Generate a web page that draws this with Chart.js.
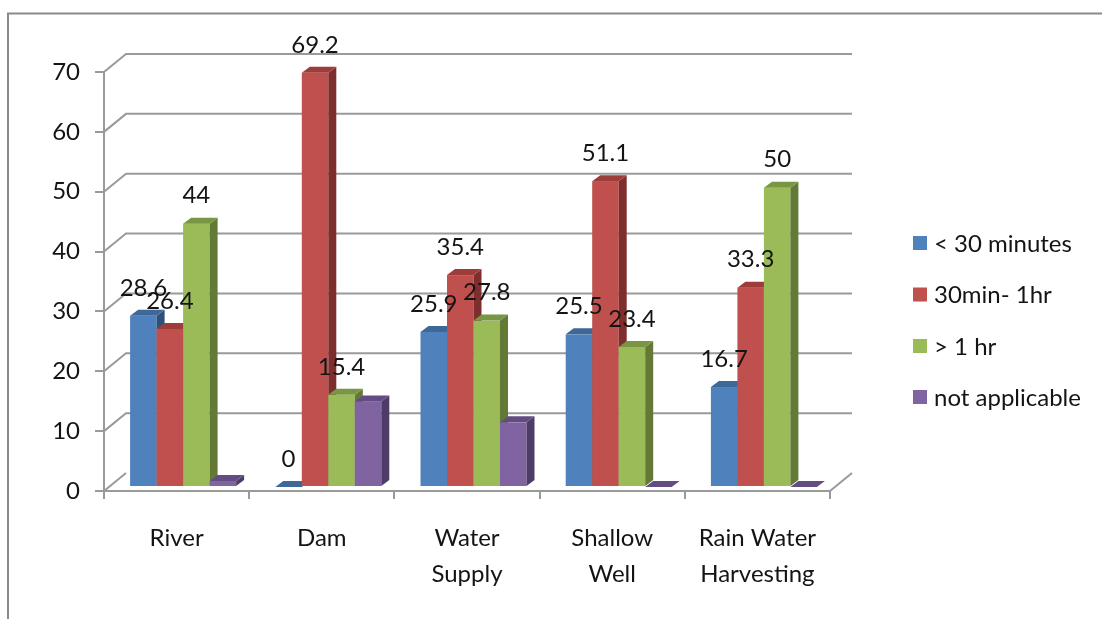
<!DOCTYPE html>
<html>
<head>
<meta charset="utf-8">
<script src="https://cdn.jsdelivr.net/npm/chart.js@4.4.1/dist/chart.umd.min.js"></script>
<style>
  html, body { margin: 0; padding: 0; background: #fff; }
  #wrap { width: 1102px; height: 619px; position: relative; }
</style>
</head>
<body>
<div id="wrap"><canvas id="c" width="1102" height="619"></canvas></div>
<script>
// Water sources and travel time to each (percent of households)
const categories = ['River', 'Dam', ['Water', 'Supply'], ['Shallow', 'Well'], ['Rain Water', 'Harvesting']];
const seriesNames = ['< 30 minutes', '30min- 1hr', '> 1 hr', 'not applicable'];
const under30min = [28.6, 0, 25.9, 25.5, 16.7];
const from30minTo1hr = [26.4, 69.2, 35.4, 51.1, 33.3];
const over1hr = [44, 15.4, 27.8, 23.4, 50];
const notApplicable = [1.0, 14.3, 10.8, 0, 0];
const yMax = 70;
const yStep = 10;

// front / top / side shades for each series
const palette = [
  { front: '#4F81BD', top: '#3D6897', side: '#2F5179' },
  { front: '#C0504D', top: '#9E3C3A', side: '#7E2E2D' },
  { front: '#9BBB59', top: '#789643', side: '#627A36' },
  { front: '#8064A2', top: '#634C82', side: '#4E3C68' }
];
const showValues = [true, true, true, false];

const FONT = 'Lato, "Open Sans", sans-serif';
const FONT_SIZE = 24;
const GRID = '#9a9a9a';
const TEXT = '#141414';
// depth of the back wall and of each column
const WALL_DX = 22, WALL_DY = -18;
const BAR_SHIFT_X = 6.5, BAR_SHIFT_Y = -4;
const BAR_DX = 8, BAR_DY = -6;

const bar3d = {
  id: 'bar3d',
  beforeDraw(chart) {
    const ctx = chart.ctx;
    ctx.save();
    ctx.strokeStyle = '#8a8a8a';
    ctx.lineWidth = 2;
    ctx.beginPath();
    ctx.moveTo(8, 619);
    ctx.lineTo(8, 13.5);
    ctx.lineTo(1102, 13.5);
    ctx.stroke();
    ctx.restore();
  },
  beforeDatasetsDraw(chart) {
    const { ctx, chartArea: a, scales } = chart;
    const y = scales.y;
    ctx.save();
    ctx.strokeStyle = GRID;
    ctx.lineWidth = 2;
    y.ticks.forEach(t => {
      const py = y.getPixelForValue(t.value);
      ctx.beginPath();
      ctx.moveTo(a.left, py);
      ctx.lineTo(a.left + WALL_DX, py + WALL_DY);
      if (t.value !== 0) ctx.lineTo(a.right + WALL_DX, py + WALL_DY);
      ctx.stroke();
    });
    // right edge of the floor
    ctx.beginPath();
    ctx.moveTo(a.right, a.bottom);
    ctx.lineTo(a.right + WALL_DX, a.bottom + WALL_DY);
    ctx.stroke();
    ctx.restore();
  },
  beforeDatasetDraw() { return false; },
  afterDatasetsDraw(chart) {
    const ctx = chart.ctx;
    const metas = chart.data.datasets.map((d, i) => chart.getDatasetMeta(i));
    const n = chart.data.labels.length;
    ctx.save();
    for (let j = 0; j < n; j++) {
      metas.forEach((meta, i) => {
        const el = meta.data[j];
        const p = el.getProps(['x', 'y', 'base', 'width'], true);
        const c = palette[i];
        const x0 = p.x - p.width / 2 + BAR_SHIFT_X;
        const x1 = p.x + p.width / 2 + BAR_SHIFT_X;
        const yt = p.y + BAR_SHIFT_Y;
        const yb = p.base + BAR_SHIFT_Y;
        if (yb - yt > 0.5) {
          // front
          ctx.fillStyle = c.front;
          ctx.fillRect(x0, yt, x1 - x0, yb - yt);
          // side
          ctx.fillStyle = c.side;
          ctx.beginPath();
          ctx.moveTo(x1, yt);
          ctx.lineTo(x1 + BAR_DX, yt + BAR_DY);
          ctx.lineTo(x1 + BAR_DX, yb + BAR_DY);
          ctx.lineTo(x1, yb);
          ctx.closePath();
          ctx.fill();
        }
        // top
        ctx.fillStyle = c.top;
        ctx.beginPath();
        ctx.moveTo(x0, yt);
        ctx.lineTo(x1, yt);
        ctx.lineTo(x1 + BAR_DX, yt + BAR_DY);
        ctx.lineTo(x0 + BAR_DX, yt + BAR_DY);
        ctx.closePath();
        ctx.fill();
      });
    }
    // value labels
    ctx.font = FONT_SIZE + 'px ' + FONT;
    ctx.fillStyle = TEXT;
    ctx.textAlign = 'center';
    ctx.textBaseline = 'middle';
    metas.forEach((meta, i) => {
      if (!showValues[i]) return;
      const data = chart.data.datasets[i].data;
      meta.data.forEach((el, j) => {
        const p = el.getProps(['x', 'y'], true);
        ctx.fillText(String(data[j]), p.x + BAR_SHIFT_X, p.y + BAR_SHIFT_Y - 28);
      });
    });
    // legend
    const legendY = [243, 294.5, 346, 397];
    ctx.textAlign = 'left';
    chart.data.datasets.forEach((d, i) => {
      ctx.fillStyle = palette[i].front;
      ctx.fillRect(913, legendY[i] - 7, 14, 14);
      ctx.fillStyle = TEXT;
      ctx.fillText(d.label, 934, legendY[i] + 1);
    });
    ctx.restore();
  }
};

const seriesValues = [under30min, from30minTo1hr, over1hr, notApplicable];

new Chart(document.getElementById('c'), {
  type: 'bar',
  data: {
    labels: categories,
    datasets: seriesValues.map((vals, i) => ({
      label: seriesNames[i],
      data: vals,
      backgroundColor: palette[i].front,
      borderWidth: 0,
      barPercentage: 1,
      categoryPercentage: 0.73
    }))
  },
  options: {
    responsive: false,
    devicePixelRatio: 1,
    animation: false,
    layout: { padding: { left: 0, top: 72, right: 272, bottom: 0 } },
    plugins: { legend: { display: false }, tooltip: { enabled: false } },
    scales: {
      x: {
        afterFit(s) { s.height = 128; },
        grid: { offset: true, drawOnChartArea: false, drawTicks: true, tickLength: 8, color: GRID, lineWidth: 2 },
        border: { display: true, color: GRID, width: 2 },
        ticks: {
          color: TEXT,
          padding: 21,
          maxRotation: 0,
          autoSkip: false,
          font: { family: FONT, size: FONT_SIZE, lineHeight: 36 / FONT_SIZE }
        }
      },
      y: {
        min: 0,
        max: yMax,
        afterFit(s) { s.width = 104; },
        grid: { drawOnChartArea: false, drawTicks: true, tickLength: 9, color: GRID, lineWidth: 2 },
        border: { display: true, color: GRID, width: 2 },
        ticks: {
          stepSize: yStep,
          color: TEXT,
          padding: 15,
          font: { family: FONT, size: FONT_SIZE }
        }
      }
    }
  },
  plugins: [bar3d]
});
</script>
</body>
</html>
